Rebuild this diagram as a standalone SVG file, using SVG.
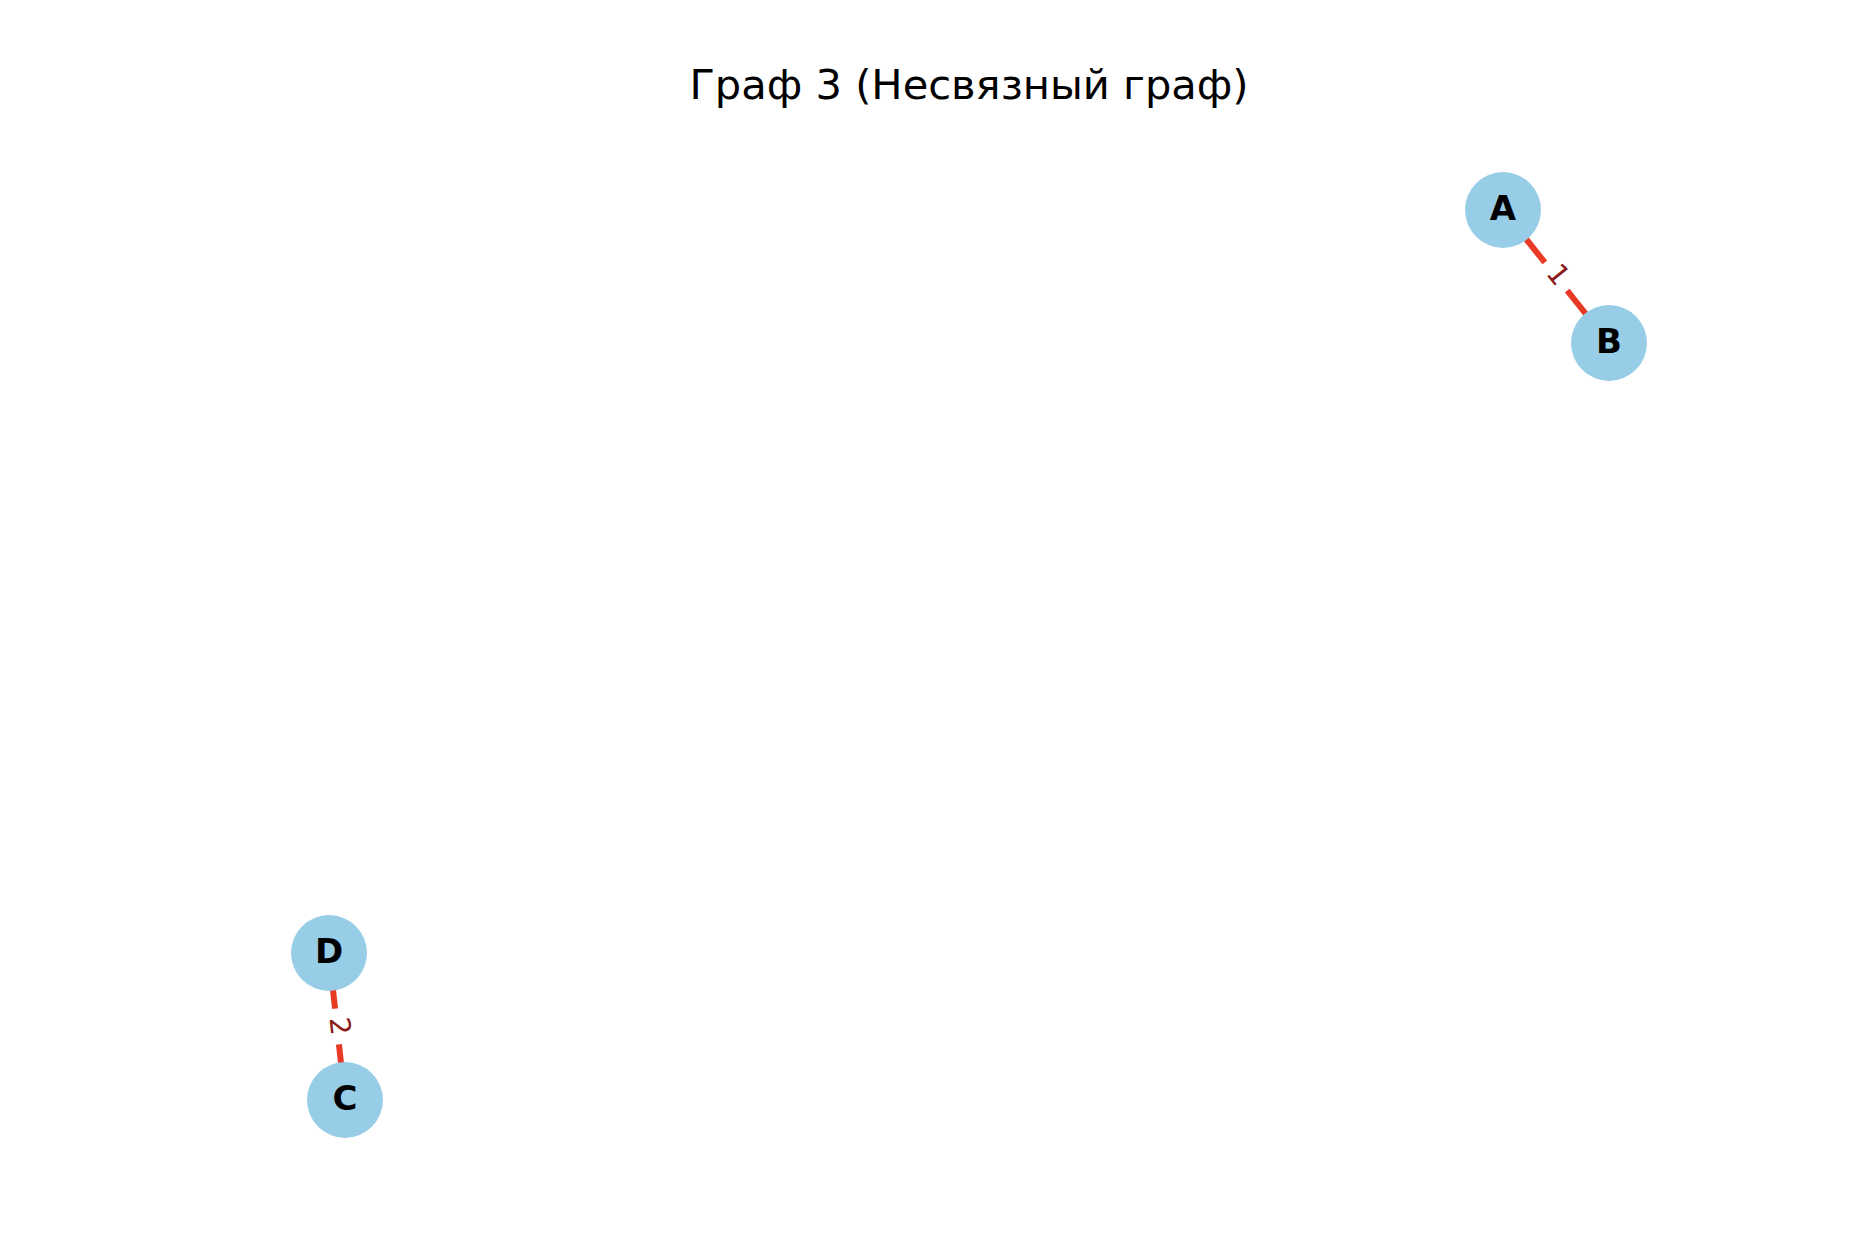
<svg xmlns="http://www.w3.org/2000/svg" width="1872" height="1240" viewBox="0 0 1872 1240">
<style>
.title{font-family:"DejaVu Sans",sans-serif;font-size:41.6px;fill:#000}
.node circle{fill:#98cde8}
.node text{font-family:"DejaVu Sans",sans-serif;font-weight:bold;font-size:34px;fill:#000;text-anchor:middle;dominant-baseline:central}
.edge{stroke:#e83a25;stroke-width:6;fill:none}
.lbl rect{fill:#fff}
.lbl text{font-family:"DejaVu Sans",sans-serif;font-size:28px;fill:#8b1a1a;text-anchor:middle;dominant-baseline:central}
</style>
<rect width="1872" height="1240" fill="#fff"/>
<text class="title" x="969" y="99" text-anchor="middle">Граф 3 (Несвязный граф)</text>
<g id="connectors">
<line class="edge" x1="1503" y1="210" x2="1609" y2="343"/>
<line class="edge" x1="329" y1="953" x2="345" y2="1100"/>
<g class="lbl" transform="translate(1556,276.5) rotate(51.4)"><rect x="-18" y="-16" width="36" height="32"/><text x="0" y="-3">1</text></g>
<g class="lbl" transform="translate(337,1026.5) rotate(83.8)"><rect x="-18" y="-16" width="36" height="32"/><text x="0" y="-3">2</text></g>
</g>
<g id="node-A" class="node"><circle cx="1503" cy="210" r="38"/><text x="1503" y="208">A</text></g>
<g id="node-B" class="node"><circle cx="1609" cy="343" r="38"/><text x="1609" y="341">B</text></g>
<g id="node-D" class="node"><circle cx="329" cy="953" r="38"/><text x="329" y="951">D</text></g>
<g id="node-C" class="node"><circle cx="345" cy="1100" r="38"/><text x="345" y="1098">C</text></g>
</svg>
